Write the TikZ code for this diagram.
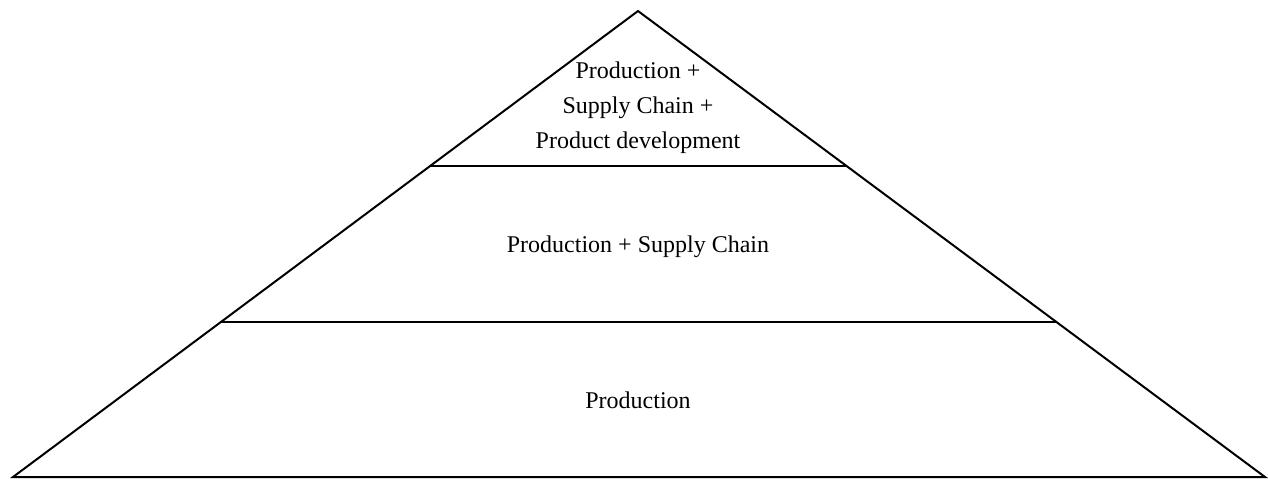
\documentclass[tikz,border=0pt]{standalone}
\usepackage{fontspec}
\setmainfont{Liberation Serif}

\begin{document}
\begin{tikzpicture}[x=0.5pt,y=-0.5pt,line width=1pt,
        tier/.style={align=center,font=\fontsize{12}{17.5}\selectfont}]
            \useasboundingbox (0,0) rectangle (1268,479);
            \coordinate (apex) at (638,11);
            \coordinate (bl) at (13,477);
            \coordinate (br) at (1265,477);
            \coordinate (ml) at (221,322);
            \coordinate (mr) at (1057,322);
            \coordinate (tl) at (430,166);
            \coordinate (tr) at (847,166);
            \node[tier] at (638,108) (dev) {Production +\\Supply Chain +\\Product development};
            \node[tier,anchor=base] at (638,252) (supply) {Production + Supply Chain};
            \node[tier,anchor=base] at (638,408) (prod) {Production};
            \draw (bl) -- (apex) -- (br) -- cycle;
            \draw (tl) to (tr);
            \draw (ml) to (mr);
        \end{tikzpicture}
\end{document}
